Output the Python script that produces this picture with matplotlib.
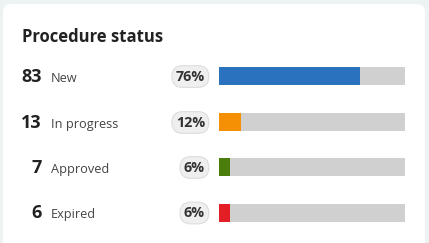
import matplotlib
matplotlib.use("Agg")
import matplotlib.pyplot as plt
from matplotlib.patches import FancyBboxPatch

## Data
statuses = ["New", "In progress", "Approved", "Expired"]
counts = [83, 13, 7, 6]
shares = [76, 12, 6, 6]          # percent of all procedures
bar_colors = ["#2a72bd", "#f59005", "#4a7d0c", "#e31e25"]

## Layout (pixels, 429x243 canvas)
W, H = 429, 243
row_y = [76, 122, 167, 212.5]
plt.rcParams['font.family'] = ['Open Sans', 'DejaVu Sans']

fig = plt.figure(figsize=(W / 100, H / 100), dpi=100)
fig.patch.set_facecolor("#edf2f2")

ax = fig.add_axes([0, 0, 1, 1])
ax.set_xlim(0, W)
ax.set_ylim(H, 0)
ax.axis("off")

# white card
ax.add_patch(FancyBboxPatch((3, 4), 422, 270, boxstyle="round,pad=0,rounding_size=8",
                            facecolor="white", edgecolor="none"))
ax.text(22, 42, "Procedure status", fontsize=12, fontweight="bold", color="#222222",
        va="baseline", ha="left")

for y, n, lab, p in zip(row_y, counts, statuses, shares):
    ax.text(42, y + 5.5, str(n), fontsize=13, fontweight="bold", color="#222222",
            ha="right", va="baseline")
    ax.text(51, y + 5.5, lab, fontsize=9.2, color="#444444", ha="left", va="baseline")
    ax.text(205, y + 0.5, f"{p}%", fontsize=10.3, fontweight="bold", color="#333333",
            ha="right", va="center",
            bbox=dict(boxstyle="round,pad=0.27,rounding_size=0.75",
                      facecolor="#efefef", edgecolor="#dddddd", linewidth=0.8))

## Bars
bax = fig.add_axes([219 / W, 0, 186 / W, 1])
bax.set_xlim(0, 100)
bax.set_ylim(H, 0)
bax.axis("off")
bax.patch.set_alpha(0)
bax.barh(row_y, [100] * len(shares), height=18, color="#d0d0d0")
bax.barh(row_y, shares, height=18, color=bar_colors)

plt.savefig("out.png", dpi=100)
